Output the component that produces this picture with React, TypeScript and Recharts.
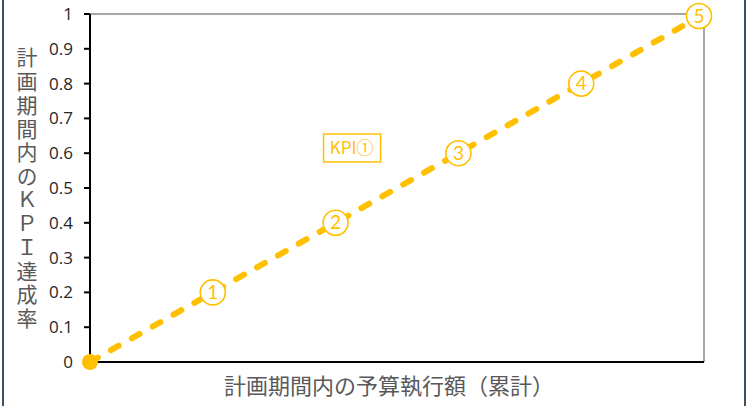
import { LineChart, Line, XAxis, YAxis, ReferenceLine, ReferenceDot, LabelList } from 'recharts';

// 予算執行額（累計）の区切りと KPI 達成率
const budgetSteps = [0, 1, 2, 3, 4, 5];
const kpiRates = [0, 0.2, 0.4, 0.6, 0.8, 1];
const stepMarks = ['', '1', '2', '3', '4', '5'];
const yTicks = [0, 0.1, 0.2, 0.3, 0.4, 0.5, 0.6, 0.7, 0.8, 0.9, 1];
const xTicks = [0, 1, 2, 3, 4, 5];
const yTitle = '計画期間内のＫＰＩ達成率';
const xTitle = '計画期間内の予算執行額（累計）';
const seriesName = 'KPI①';

const ORANGE = '#FFC000';
const JP_FONT = '"Noto Sans CJK JP", "Noto Sans", sans-serif';

const chartData = budgetSteps.map((b, i) => ({ budget: b, rate: kpiRates[i], mark: stepMarks[i] }));

function StepLabel(props: any) {
  const { x, y, value } = props;
  if (!value) return null;
  const last = value === '5';
  const cx = last ? x - 5 : x;
  const cy = last ? y + 2 : y;
  return (
    <g>
      <circle cx={cx} cy={cy} r={12.5} fill="#fff" stroke={ORANGE} strokeWidth={1.6} />
      <text x={cx} y={cy + 6.5} textAnchor="middle" fontSize={19} fill={ORANGE} fontFamily="Lato, sans-serif">
        {value}
      </text>
    </g>
  );
}

function StartDot(props: any) {
  const { cx, cy, index } = props;
  if (index !== 0) return <g key={index} />;
  return <circle key={index} cx={cx} cy={cy} r={8} fill={ORANGE} />;
}

function SeriesTag(props: any) {
  const { cx, cy } = props;
  return (
    <g>
      <rect x={cx - 28} y={cy - 14} width={57} height={28} fill="#fff" stroke={ORANGE} strokeWidth={1.5} />
      <text x={cx} y={cy + 6} textAnchor="middle" fontSize={17} fill={ORANGE} fontFamily={JP_FONT}>
        {seriesName}
      </text>
    </g>
  );
}

function VerticalTitle() {
  return (
    <text
      x={27}
      y={47}
      writingMode="tb"
      style={{ writingMode: 'vertical-rl', textOrientation: 'upright' } as any}
      fontSize={21}
      letterSpacing={2.7}
      fill="#595959"
      fontFamily={JP_FONT}
    >
      {yTitle}
    </text>
  );
}

export default function App() {
  return (
    <div
      style={{
        position: 'absolute',
        left: 0,
        top: 0,
        height: 406,
        background: '#fff',
        boxSizing: 'border-box',
        borderLeft: '2px solid #3e4f5e',
        borderRight: '2px solid #3e4f5e',
        marginLeft: 2,
        width: 744,
      }}
    >
      <div style={{ position: 'absolute', left: -4, top: 0 }}>
        <LineChart width={748} height={406} data={chartData} margin={{ top: 14, right: 44, bottom: 0, left: 0 }}>
          <XAxis
            dataKey="budget"
            type="number"
            domain={[0, 5]}
            ticks={xTicks}
            tick={false}
            tickSize={5}
            height={44}
            axisLine={{ stroke: '#000', strokeWidth: 2 }}
            tickLine={{ stroke: '#000', strokeWidth: 2 }}
            label={{
              value: xTitle,
              position: 'insideBottom',
              offset: 12,
              fontSize: 22,
              fill: '#595959',
              fontFamily: JP_FONT,
              dx: -8,
            }}
          />
          <YAxis
            type="number"
            domain={[0, 1]}
            ticks={yTicks}
            width={90}
            tickSize={6}
            tickMargin={11}
            axisLine={{ stroke: '#000', strokeWidth: 2 }}
            tickLine={{ stroke: '#000', strokeWidth: 2 }}
            tick={{ fill: '#262626', fontSize: 17, fontFamily: '"Open Sans", sans-serif' }}
            label={<VerticalTitle />}
          />
          <ReferenceLine y={1} stroke="#a6a6a6" strokeWidth={2} />
          <ReferenceLine x={5} stroke="#a6a6a6" strokeWidth={2} />
          <ReferenceDot x={2.13} y={0.615} r={0} shape={<SeriesTag />} />
          <Line
            dataKey="rate"
            stroke={ORANGE}
            strokeWidth={6}
            strokeDasharray="9 15"
            strokeLinecap="round"
            dot={<StartDot />}
            activeDot={false}
            isAnimationActive={false}
          >
            <LabelList dataKey="mark" content={<StepLabel />} />
          </Line>
        </LineChart>
      </div>
    </div>
  );
}
